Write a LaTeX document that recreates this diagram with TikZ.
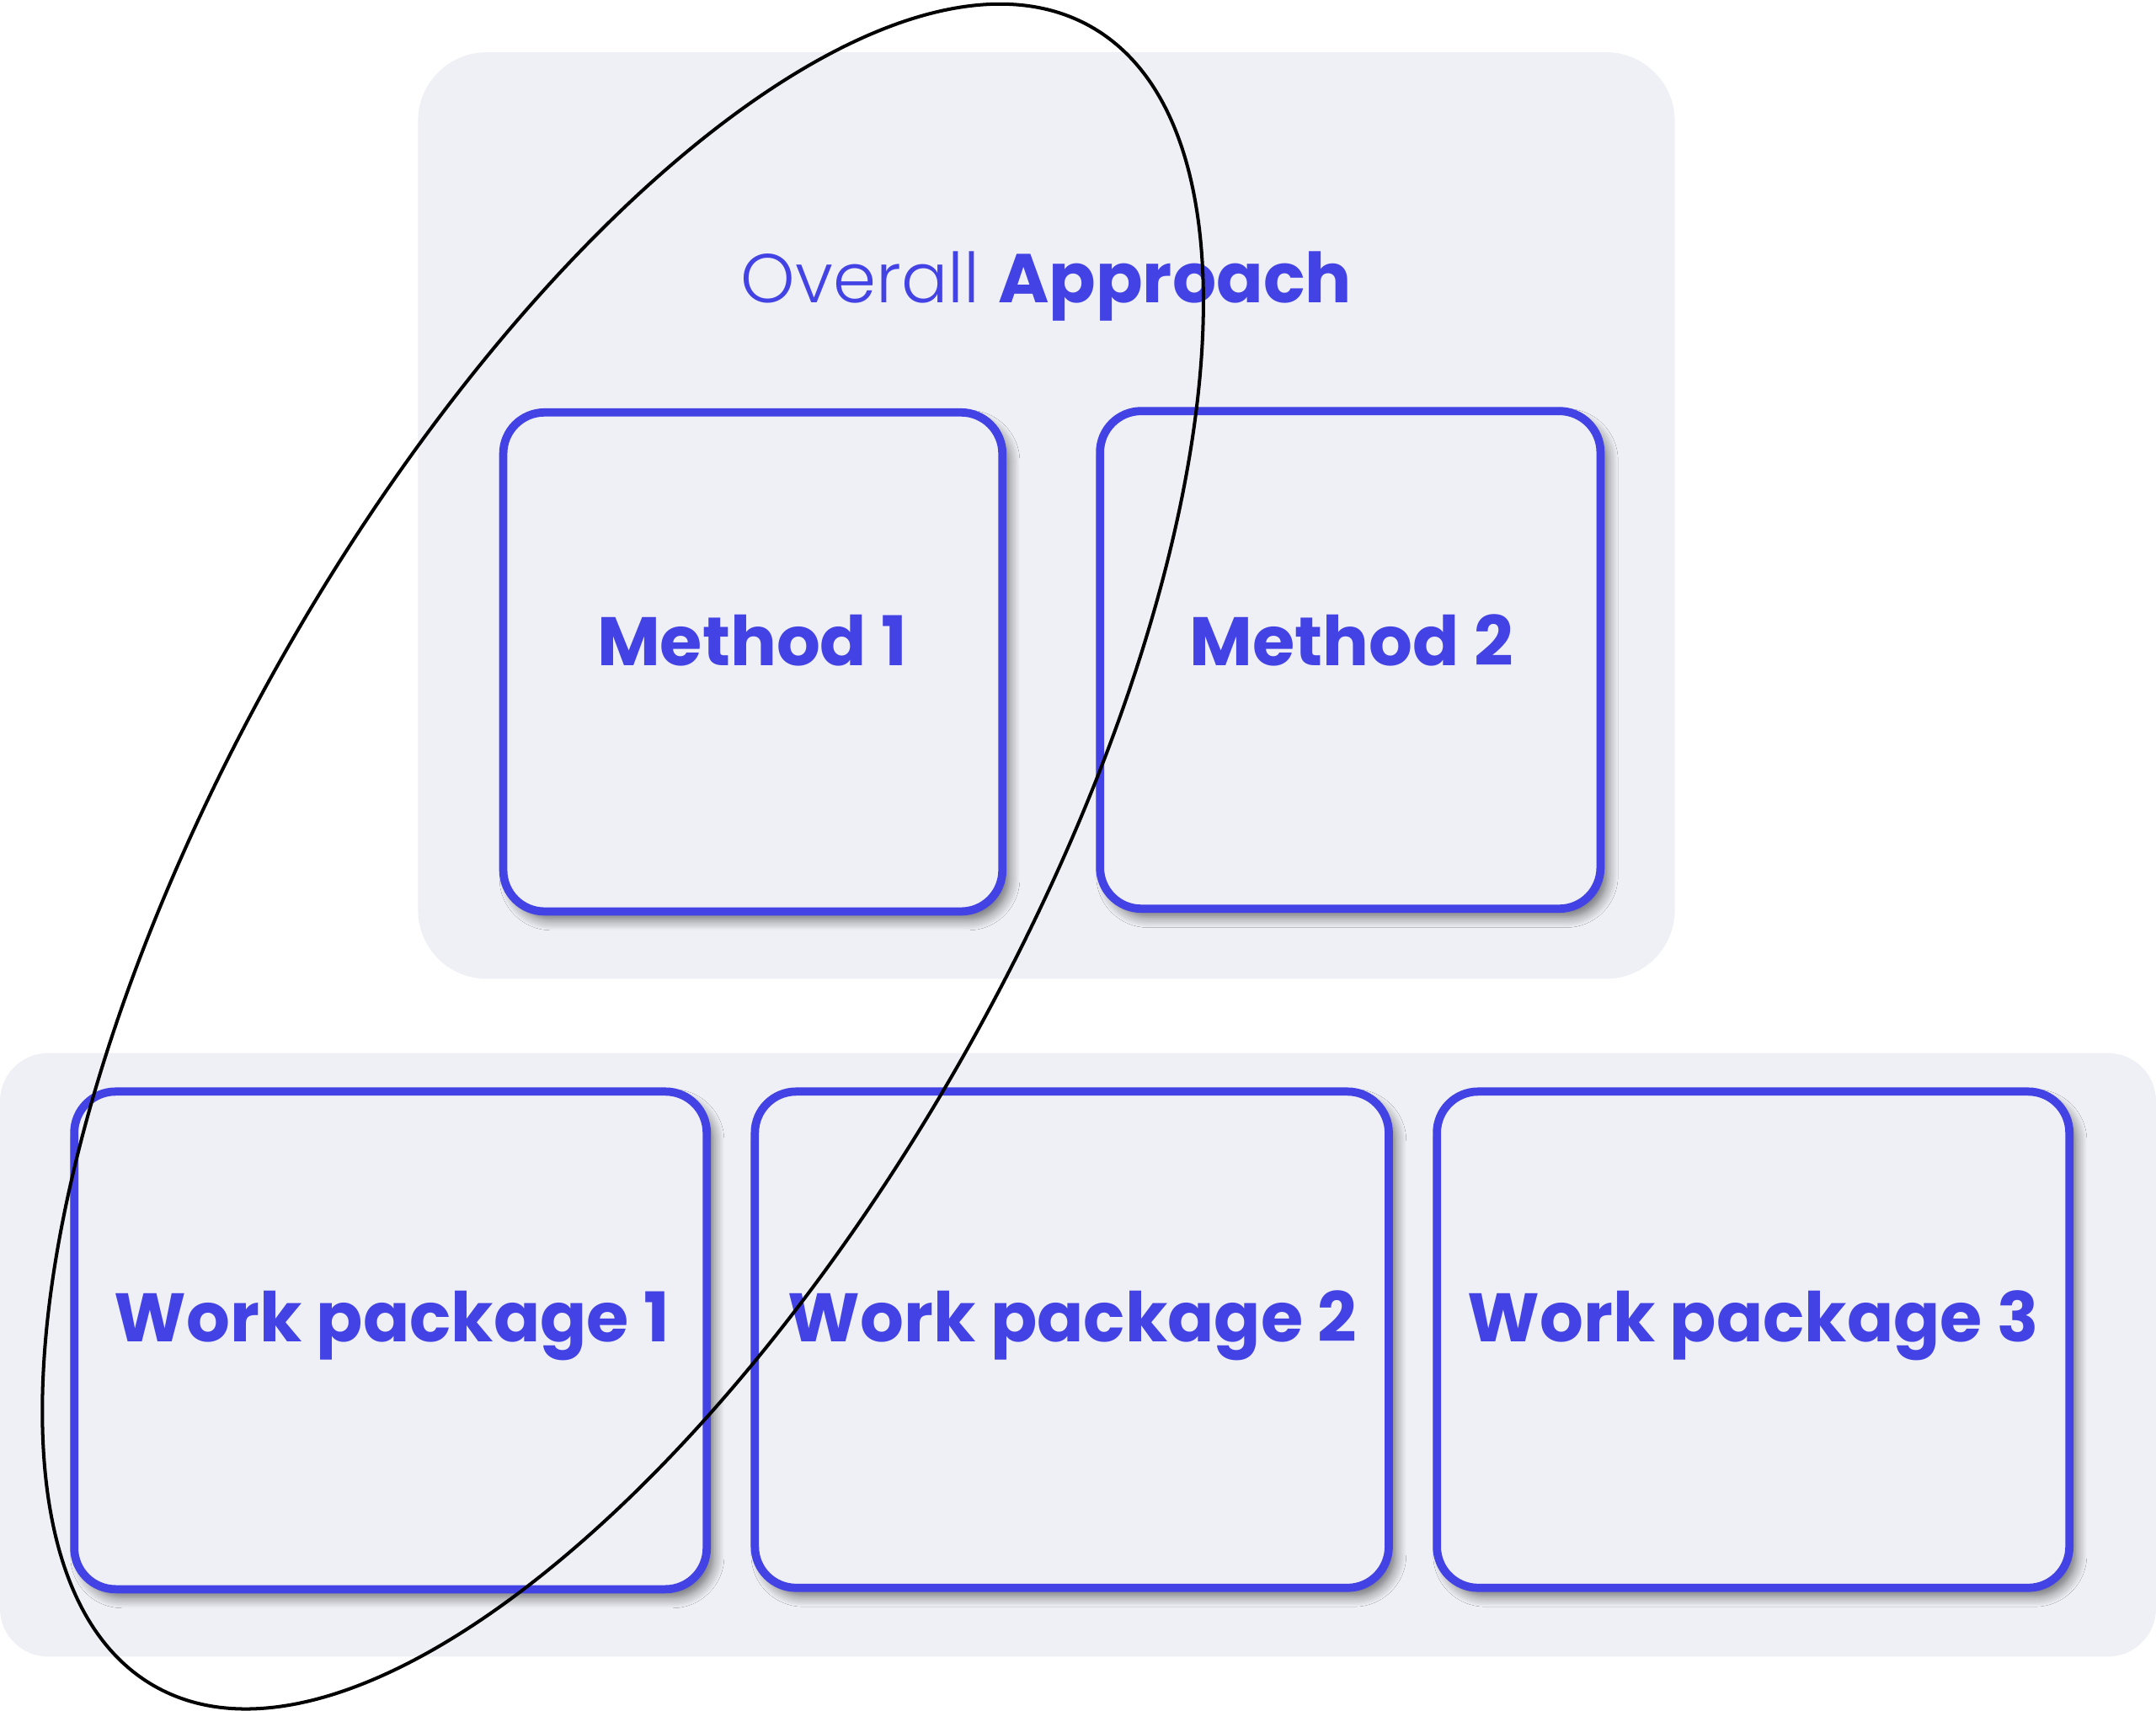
\documentclass[tikz,border=0pt]{standalone}
\usepackage{fontspec}
\setmainfont{Poppins}[BoldFont={Poppins Bold}]
\newfontfamily\poplight{Poppins Light}
\usetikzlibrary{shadows.blur}
\definecolor{wpblue}{RGB}{67,67,229}
\definecolor{panelgray}{RGB}{239,240,245}
\tikzset{
  panel/.style={fill=panelgray},
  wbox/.style={draw=wpblue, line width=1.7pt, fill=panelgray, rounded corners=0.3cm,
    blur shadow={shadow xshift=0.05cm, shadow yshift=-0.06cm, shadow blur steps=8, shadow opacity=55}},
  lbl/.style={text=wpblue, font=\fontsize{14.2}{17}\selectfont\bfseries, anchor=base}
}
\begin{document}
\begin{tikzpicture}
\useasboundingbox (0,0) rectangle (15.68,-12.44);
% grey panels
\fill[panel, rounded corners=0.5cm] (3.04,-0.38) rectangle (12.18,-7.12);
\fill[panel, rounded corners=0.35cm] (0,-7.66) rectangle (15.68,-12.05);
\node[text=wpblue, font=\fontsize{14.3}{17}\selectfont, anchor=base] (title) at (7.61,-2.20) {{\poplight Overall} \textbf{Approach}};
% boxes
\node[wbox, minimum width=3.63cm, minimum height=3.63cm] (m1) at (5.475,-4.815) {};
\node[wbox, minimum width=3.64cm, minimum height=3.62cm] (m2) at (9.82,-4.80) {};
\node[wbox, minimum width=4.60cm, minimum height=3.62cm] (wp1) at (2.84,-9.75) {};
\node[wbox, minimum width=4.61cm, minimum height=3.61cm] (wp2) at (7.795,-9.745) {};
\node[wbox, minimum width=4.60cm, minimum height=3.61cm] (wp3) at (12.75,-9.745) {};
\node[lbl] (m1txt) at (5.47,-4.84) {Method 1};
\node[lbl] (m2txt) at (9.83,-4.84) {Method 2};
\node[lbl] (wp1txt) at (2.85,-9.76) {Work package 1};
\node[lbl] (wp2txt) at (7.80,-9.76) {Work package 2};
\node[lbl] (wp3txt) at (12.75,-9.76) {Work package 3};
% ellipse
\draw[black, line width=0.7pt, rotate around={60.6:(4.53,-6.23)}] (4.53,-6.23) ellipse (6.93cm and 2.87cm);
\end{tikzpicture}
\end{document}
